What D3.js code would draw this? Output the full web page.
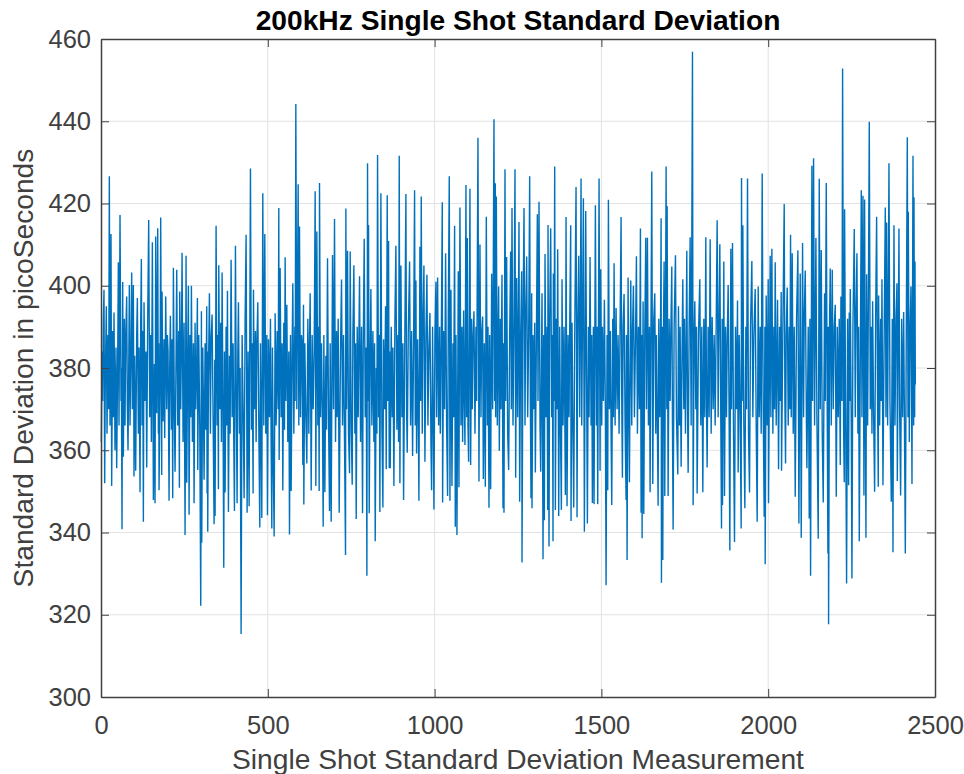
<!DOCTYPE html>
<html><head><meta charset="utf-8">
<style>html,body{margin:0;padding:0;background:#fff}svg{display:block}</style>
<script src="https://cdn.jsdelivr.net/npm/d3@7"></script></head><body>
<div id="chart"></div>
<script>
const titleText = "200kHz Single Shot Standard Deviation";
const xLabelText = "Single Shot Standard Deviation Measurement";
const yLabelText = "Standard Deviation in picoSeconds";
const xTicks = [0,500,1000,1500,2000,2500];
const yTicks = [300,320,340,360,380,400,420,440,460];

const samplesA = [[1,362],[3,384],[5,372],[7,392],[9,399],[11,352],[13,378],[16,395],[18,364],[21,388],[23,370],[25,426.6],[27,366],[30,412.6],[32,351.3],[35,389],[37,368],[39,393.5],[42,360],[45,385],[47,355.6],[50,382],[52,405.7],[54,366],[57,417.2],[60,372],[61,380],[63,340.8],[65,400.9],[67,358.4],[70,392],[72,366],[74,387],[77,397.4],[79,371],[81,360],[83,379],[85,400.2],[87,366],[90,386],[92,403.2],[94,370],[97,400.2],[99,353.6],[101,383],[104,355],[107,388],[109,397],[112,364],[114,385],[117,349.8],[119,391],[121,406.5],[123,366],[125,389],[127,342.6],[129,396],[132,372],[135,384],[137,355.8],[140,392],[143,416],[146,368],[149,388],[151,362],[154,410.6],[157,347.9],[160,381],[162,347.1],[164,412],[167,369],[170,414],[172,364],[173,386],[174,350.3],[177,375],[179,416.6],[182,354],[183,398.6],[186,367],[189,387],[191,363],[194,397.4],[197,370],[199,388],[201,384],[204,347.7],[206,380],[208,392.7],[211,365],[213,387],[215,348.3],[217,404.4],[220,368],[222,354.8],[225,383],[227,403.9],[230,366],[233,389],[235,350.9],[236,398.6],[239,370],[241,385],[243,408],[246,362],[249,391],[252,339.4],[255,407.3],[257,352.1],[260,384],[262,400],[264,344.3],[267,388],[269,368],[271,400],[274,362],[277,386],[279,347.1],[282,391],[284,370],[287,382],[289,397],[290,355.2],[293,388],[296,366],[299,322.2],[301,393.8],[302,337.5],[305,385],[307,372],[309,352.8],[312,386],[314,365],[317,395],[318,349.5],[319,384],[320,340.2],[322,378],[325,398.2],[328,364],[330,387],[333,393],[336,368],[339,342],[341,382],[342,344],[345,414.6],[348,366],[350,388],[352,350.5],[353,405],[356,370],[359,391],[361,362],[363,403.2],[366,365],[368,331.4],[370,384],[372,349.7],[375,390],[377,366],[379,398.8],[382,345],[385,383],[387,364],[390,406.3],[393,368],[396,386],[398,362],[400,345.2],[403,409.7],[406,367],[408,347.1],[410,383],[412,396],[415,364],[417,380],[420,315.3],[423,388],[426,370],[429,348.3],[432,392],[435,412.4],[438,344.8],[441,384],[444,346.4],[448,428.5],[451,365],[453,386],[456,349.5],[457,399],[460,370],[463,389],[465,362],[467,385],[470,396],[473,366],[476,341.2],[478,386],[480,368],[482,343.5],[485,422.5],[488,366],[491,412.6],[494,364],[497,388],[499,344.2]];

const samplesB = [[502,387],[505,368],[508,392],[510,362],[512,341],[514,385],[516,360],[519,339],[522,393.3],[525,366],[528,389],[531,370],[533,418.9],[534,357.6],[537,404.3],[540,368],[543,386],[545,350.2],[548,391],[550,365],[552,406.9],[554,372],[557,395.4],[560,362],[563,384],[565,339.5],[568,388],[570,350.1],[573,385],[575,400.6],[578,364],[581,390],[582,372],[584,444.2],[587,370],[591,424.7],[593,366],[595,414.4],[598,368],[601,388],[603,386],[605,356.4],[607,395.4],[608,346.8],[611,386],[614,368],[617,356.8],[620,392],[623,364],[625,386],[627,398.2],[630,350.2],[633,388],[636,370],[639,384],[642,423],[644,351.3],[647,413.2],[650,366],[652,390],[654,350.1],[655,425],[658,368],[661,386],[664,366],[666,341.4],[668,388],[671,349.8],[674,383],[676,365],[679,406.7],[682,368],[685,345.2],[687,386],[690,342.6],[694,407.5],[697,370],[700,416.2],[703,362],[706,389],[708,368],[711,392],[714,344.8],[718,385],[721,401.5],[724,366],[727,388],[730,362],[733,334.5],[734,418.8],[736,370],[739,408.5],[742,364],[745,354.4],[747,408.3],[750,366],[753,351.6],[755,388],[758,405],[761,364],[763,386],[765,343.3],[768,390],[771,368],[773,387],[775,402.3],[778,362],[781,390],[784,344.7],[786,384],[789,411.4],[792,368],[795,385],[797,329.5],[799,429.8],[801,372],[802,414.8],[804,344.7],[807,385],[809,399.2],[812,366],[815,389],[818,362],[820,386],[822,337.9],[825,380],[827,364],[829,431.8],[832,368],[834,388],[836,345],[839,422.5],[842,366],[845,346.1],[847,387],[850,370],[853,395],[855,355.4],[858,422],[860,372],[862,410.9],[864,355.6],[865,384],[867,355.6],[870,390],[873,368],[875,385],[878,351.3],[881,392],[884,409.7],[887,365],[890,388],[892,362],[894,431.6],[896,352],[899,404.9],[902,368],[905,386],[907,347.9],[911,390],[914,422.3],[916,370],[918,359.4],[921,388],[925,405.9],[928,366],[931,389],[934,358.6],[937,386],[940,423.2],[942,366],[944,401.3],[946,359.2],[949,387],[951,370],[953,347.7],[956,409.5],[958,372],[960,421.7],[963,364],[965,390],[968,404.9],[971,357.2],[974,388],[977,402.7],[980,366],[983,385],[986,393.4],[989,362],[991,350.3],[994,390],[996,368],[998,345.6]];

const samplesC = [[1001,388],[1004,401],[1006,368],[1009,402],[1012,366],[1015,390],[1017,364],[1020,386],[1023,420.3],[1024,347.3],[1027,389],[1030,370],[1033,407.9],[1036,366],[1039,348.9],[1041,392],[1044,426.6],[1046,347.7],[1049,399],[1052,351.3],[1055,386],[1057,368],[1060,414.6],[1062,341.4],[1064,388],[1067,339.4],[1071,403.5],[1073,351],[1076,419],[1079,366],[1082,390],[1084,362],[1087,394],[1089,372],[1091,361.3],[1094,424.5],[1096,368],[1098,411.6],[1100,366],[1102,357.2],[1106,423.6],[1108,356.4],[1111,392],[1113,370],[1115,386],[1118,393.8],[1121,364],[1124,390],[1126,372],[1130,436],[1133,352.4],[1136,410],[1139,368],[1141,388],[1144,392.5],[1146,353],[1149,386],[1152,351.1],[1155,416.8],[1158,366],[1160,390],[1163,346],[1165,388],[1168,350.5],[1171,402.9],[1174,370],[1178,440.5],[1180,372],[1182,424.9],[1183,368],[1185,421.7],[1188,366],[1190,386],[1192,399.8],[1194,359.9],[1197,392],[1199,370],[1202,402.7],[1205,345.9],[1207,386],[1208,344.8],[1211,428.3],[1213,372],[1216,407],[1219,364],[1222,355.2],[1225,388],[1228,408.3],[1230,370],[1232,418.9],[1235,366],[1238,390],[1241,428.3],[1243,353.3],[1246,401.9],[1249,368],[1253,415.5],[1255,347.5],[1258,388],[1261,403.5],[1262,332.7],[1265,390],[1268,418.9],[1271,366],[1273,392],[1276,407.1],[1279,368],[1282,388],[1285,426.6],[1287,372],[1289,348.3],[1291,398.2],[1292,345.9],[1295,388],[1298,370],[1300,391],[1302,354.6],[1305,386],[1308,417.4],[1310,372],[1313,420.4],[1316,366],[1318,354.8],[1322,398.2],[1325,333.5],[1327,388],[1329,343],[1331,407.7],[1334,368],[1337,390],[1339,345.5],[1340,414.8],[1343,336.6],[1345,392],[1348,414],[1351,368],[1353,388],[1355,337.9],[1356,403],[1358,372],[1360,429],[1362,345.5],[1365,392],[1367,370],[1369,408.9],[1372,344],[1375,390],[1377,368],[1380,345.5],[1382,401.6],[1385,366],[1388,390],[1390,372],[1392,349.1],[1394,416.7],[1397,346.4],[1400,388],[1403,368],[1405,390],[1408,414.7],[1409,342.8],[1412,391],[1414,370],[1417,346.1],[1420,388],[1424,424],[1427,343.7],[1429,390],[1432,407.3],[1435,368],[1439,426.1],[1441,366],[1446,421.3],[1449,340.2],[1453,418.2],[1456,372],[1458,342.2],[1461,390],[1463,368],[1466,407],[1469,366],[1471,388],[1473,347.2],[1476,390],[1478,346.9],[1482,419.6],[1485,366],[1487,390],[1489,346.9],[1493,426.1],[1496,355],[1498,404],[1501,366]];

const samplesD = [[1503,390],[1506,372],[1509,396.6],[1512,368],[1514,327.2],[1517,388],[1519,350.3],[1521,420.9],[1524,370],[1527,389],[1529,365],[1531,346.7],[1534,392],[1536,368],[1538,405.5],[1541,366],[1544,394.6],[1547,370],[1550,388],[1553,364],[1556,390],[1559,416.7],[1561,372],[1563,353.3],[1565,390],[1568,398],[1571,366],[1574,347.9],[1575,388],[1577,333.3],[1580,402],[1582,372],[1584,352.2],[1588,401.3],[1591,366],[1593,388],[1596,400],[1599,368],[1602,386],[1605,407.2],[1608,364],[1611,390],[1614,370],[1617,413.9],[1619,344.8],[1621,388],[1622,338.6],[1625,396.2],[1627,344.5],[1630,388],[1633,411.7],[1635,370],[1638,411.7],[1641,366],[1644,390],[1646,349.8],[1651,427.8],[1654,351.8],[1657,392],[1660,398.2],[1663,364],[1665,388],[1667,372],[1670,346.5],[1672,392],[1675,368],[1677,386],[1679,416.4],[1680,327.8],[1682,390],[1684,333.3],[1686,388],[1688,405.9],[1690,348.9],[1694,429],[1696,370],[1697,419.4],[1700,348.9],[1703,392],[1706,372],[1708,388],[1711,404.7],[1713,366],[1715,340.7],[1718,390],[1722,407.4],[1725,368],[1729,354.1],[1731,395],[1734,366],[1736,390],[1739,356],[1742,386],[1744,401.6],[1747,370],[1749,392],[1752,364],[1756,408.5],[1758,372],[1760,354.5],[1763,390],[1766,411.8],[1769,366],[1773,456.9],[1775,346.6],[1778,388],[1780,396.2],[1783,370],[1785,390],[1787,349.5],[1791,388],[1795,401.6],[1798,366],[1801,390],[1804,349.8],[1807,392],[1810,368],[1813,411.8],[1815,372],[1817,355.8],[1820,390],[1823,368],[1826,411.3],[1829,364],[1832,392.4],[1835,370],[1838,388],[1841,366],[1844,390],[1847,415.9],[1850,368],[1852,388],[1855,410.1],[1858,366],[1860,341],[1862,392],[1863,346.7],[1867,405.9],[1869,348.9],[1872,390],[1875,368],[1877,386],[1880,400.2],[1883,366],[1885,335.6],[1888,409],[1890,370],[1893,410.4],[1896,364],[1899,337.7],[1902,390],[1905,370],[1908,396.4],[1910,354.6],[1913,388],[1916,368],[1919,341],[1920,426.2],[1922,372],[1924,414.7],[1927,366],[1930,345.9],[1933,390],[1935,370],[1938,426.1],[1941,364],[1944,349.7],[1947,390],[1951,406],[1954,368],[1957,388],[1961,399.2],[1964,366],[1967,342.6],[1970,399.8],[1973,368],[1976,390],[1979,364],[1982,427.3],[1985,370],[1988,343.8],[1990,390],[1991,332.3],[1994,397.6],[1997,366],[2000,401.6]];

const samplesE = [[2001,347.1],[2006,407.3],[2008,368],[2011,409],[2014,364],[2017,390],[2019,370],[2021,405.7],[2024,366],[2028,396.6],[2031,355.4],[2034,390],[2036,372],[2039,398.5],[2040,355],[2044,390],[2048,419.9],[2050,372],[2052,356.8],[2054,388],[2057,399.6],[2060,366],[2063,390],[2065,370],[2067,412.4],[2069,368],[2072,407.9],[2075,364],[2078,390],[2081,348.7],[2085,392],[2089,408.6],[2092,342.2],[2096,403],[2099,338.7],[2103,410.4],[2106,368],[2108,392],[2111,403.7],[2114,372],[2116,355.6],[2120,390],[2123,343.4],[2125,392],[2127,329.5],[2131,429.2],[2133,372],[2136,431],[2139,366],[2143,411.6],[2146,368],[2150,338.5],[2153,426],[2156,370],[2159,408.7],[2162,364],[2165,347.3],[2169,398.2],[2171,372],[2174,425],[2177,368],[2179,334.9],[2180,390],[2181,317.7],[2184,392],[2186,404.2],[2189,366],[2192,403.9],[2195,370],[2198,390],[2201,395.4],[2204,348.7],[2207,390],[2210,368],[2213,392],[2216,356.4],[2218,397.4],[2221,372],[2223,452.8],[2226,366],[2228,352.2],[2229,418.6],[2232,370],[2235,327.6],[2238,392],[2241,351.5],[2243,393.5],[2245,372],[2246,399.2],[2249,366],[2251,328.8],[2254,390],[2258,413.8],[2261,368],[2263,392],[2266,407.9],[2269,364],[2271,390],[2273,337.9],[2279,423.2],[2281,368],[2284,421.9],[2287,349],[2289,421],[2291,372],[2293,338.7],[2295,402.8],[2298,366],[2300,392],[2303,439.9],[2306,370],[2309,390],[2311,364],[2313,396.2],[2316,368],[2319,349.9],[2322,392],[2325,416.8],[2328,370],[2330,351.1],[2331,397.6],[2334,366],[2337,392],[2339,372],[2341,401.6],[2344,351.5],[2348,392],[2351,419],[2353,368],[2355,415.4],[2358,366],[2362,429.8],[2365,372],[2369,347.5],[2372,392],[2374,335.2],[2377,414.7],[2380,366],[2383,392],[2386,400.6],[2387,352.5],[2392,413.9],[2394,370],[2397,349],[2400,392],[2403,368],[2406,393.6],[2408,372],[2411,334.9],[2414,390],[2417,436.1],[2419,368],[2420,418],[2423,362],[2425,388],[2428,399.8],[2431,351.8],[2434,431.6],[2436,366],[2437,421.5],[2439,368],[2440,405.9],[2441,376]];

const samples = [...samplesA, ...samplesB, ...samplesC, ...samplesD, ...samplesE];

const W = 964, H = 774;
const box = {left:101, right:935, top:39, bottom:697};
const ink = "#404040", FONT = "'Liberation Sans', Arial, sans-serif";

const x = d3.scaleLinear().domain([0,2500]).range([box.left, box.right]);
const y = d3.scaleLinear().domain([300,460]).range([box.bottom, box.top]);

const svg = d3.select("#chart").append("svg").attr("width",W).attr("height",H)
  .attr("viewBox",`0 0 ${W} ${H}`).style("font-family",FONT);

// grid
svg.append("g").selectAll("line").data(xTicks.slice(1,-1)).join("line")
  .attr("x1",d=>x(d)).attr("x2",d=>x(d)).attr("y1",box.top).attr("y2",box.bottom)
  .attr("stroke","#e2e2e2").attr("stroke-width",1);
svg.append("g").selectAll("line").data(yTicks.slice(1,-1)).join("line")
  .attr("x1",box.left).attr("x2",box.right).attr("y1",d=>y(d)).attr("y2",d=>y(d))
  .attr("stroke","#e2e2e2").attr("stroke-width",1);

// series
const line = d3.line().x(d=>x(d[0])).y(d=>y(d[1]));
svg.append("path").datum(samples).attr("d",line).attr("fill","none")
  .attr("stroke","#0072BD").attr("stroke-width",1.4).attr("stroke-linejoin","miter").attr("stroke-miterlimit",20);

// axes: ticks point inward
function style(g){
  g.selectAll(".domain").attr("stroke",ink).attr("stroke-width",1.5);
  g.selectAll(".tick line").attr("stroke",ink).attr("stroke-width",1);
  g.selectAll("text").attr("fill",ink).style("font-size","25.5px").style("font-family",FONT);
}
const bottom = svg.append("g").attr("transform",`translate(0,${box.bottom})`)
  .call(d3.axisBottom(x).tickValues(xTicks).tickFormat(d3.format("d")).tickSizeInner(-8).tickSizeOuter(0).tickPadding(19)).call(style);
const left = svg.append("g").attr("transform",`translate(${box.left},0)`)
  .call(d3.axisLeft(y).tickValues(yTicks).tickFormat(d3.format("d")).tickSizeInner(-8).tickSizeOuter(0).tickPadding(10)).call(style);
svg.append("g").attr("transform",`translate(0,${box.top})`)
  .call(d3.axisTop(x).tickValues(xTicks).tickFormat("").tickSizeInner(-8).tickSizeOuter(0)).call(style);
svg.append("g").attr("transform",`translate(${box.right},0)`)
  .call(d3.axisRight(y).tickValues(yTicks).tickFormat("").tickSizeInner(-8).tickSizeOuter(0)).call(style);

// labels
svg.append("text").attr("x",518).attr("y",30).attr("text-anchor","middle")
  .attr("font-size",28.2).attr("font-weight","bold").attr("fill","#000").text(titleText);
svg.append("text").attr("x",518).attr("y",769).attr("text-anchor","middle")
  .attr("font-size",28.2).attr("fill",ink).text(xLabelText);
svg.append("text").attr("transform","translate(33,368) rotate(-90)").attr("text-anchor","middle")
  .attr("font-size",28.2).attr("fill",ink).text(yLabelText);
</script></body></html>
